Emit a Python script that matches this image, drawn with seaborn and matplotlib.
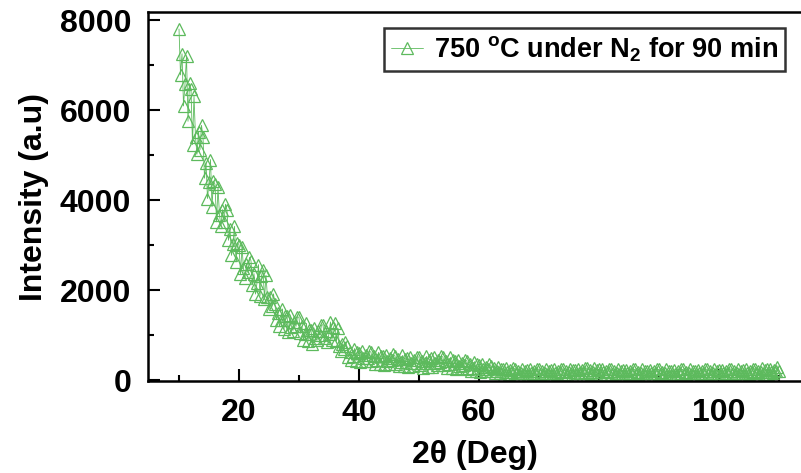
import numpy as np
import pandas as pd
import matplotlib
matplotlib.use('Agg')
import matplotlib.pyplot as plt
from matplotlib.ticker import MultipleLocator
import seaborn as sns

# XRD scan: 10 to 110 deg, 0.25 deg step
scan_start = 10.0
scan_stop = 110.0
scan_step = 0.25
two_theta = np.arange(scan_start, scan_stop + scan_step / 2, scan_step)

# intensity, four readings per degree
intensity = [
    7800, 6780, 7250, 6090,   # 10
    6580, 7200, 5750, 6590,   # 11
    6460, 5230, 6310, 5390,   # 12
    5020, 5520, 5120, 5660,   # 13
    5400, 4485, 4826, 4033,   # 14
    4390, 4900, 3850, 4420,   # 15
    4350, 3515, 4280, 3660,   # 16
    3420, 3785, 3515, 3905,   # 17
    3780, 3105, 3355, 2770,   # 18
    3030, 3415, 2625, 3055,   # 19
    3005, 2355, 2965, 2480,   # 20
    2270, 2585, 2390, 2725,   # 21
    2650, 2115, 2365, 1910,   # 22
    2160, 2565, 1875, 2320,   # 23
    2445, 1800, 2325, 1835,   # 24
    1575, 1840, 1635, 1915,   # 25
    1690, 1340, 1490, 1190,   # 26
    1330, 1580, 1140, 1420,   # 27
    1430, 1060, 1450, 1180,   # 28
    1100, 1300, 1190, 1410,   # 29
    1390, 1040, 1190, 890,    # 30
    1020, 1260, 860, 1120,    # 31
    1110, 790, 1160, 930,     # 32
    880, 1090, 1000, 1220,    # 33
    1230, 940, 1100, 840,     # 34
    1030, 1290, 900, 1170,    # 35
    1260, 860, 1150, 750,     # 36
    645, 795, 685, 845,       # 37
    745, 510, 630, 440,       # 38
    530, 700, 430, 620,       # 39
    605, 395, 635, 485,       # 40
    420, 555, 495, 640,       # 41
    620, 425, 530, 365,       # 42
    450, 615, 360, 540,       # 43
    530, 335, 560, 420,       # 44
    365, 490, 435, 570,       # 45
    540, 360, 460, 305,       # 46
    390, 545, 310, 475,       # 47
    480, 285, 510, 370,       # 48
    315, 440, 385, 520,       # 49
    510, 330, 430, 275,       # 50
    370, 525, 290, 455,       # 51
    480, 285, 510, 370,       # 52
    325, 450, 395, 530,       # 53
    510, 330, 430, 275,       # 54
    350, 505, 270, 435,       # 55
    425, 245, 450, 320,       # 56
    260, 380, 325, 450,       # 57
    425, 255, 345, 205,       # 58
    275, 410, 205, 350,       # 59
    340, 170, 365, 245,       # 60
    195, 295, 250, 355,       # 61
    320, 190, 260, 150,       # 62
    200, 300, 150, 255,       # 63
    245, 120, 265, 175,       # 64
    140, 215, 180, 260,       # 65
    250, 145, 200, 115,       # 66
    165, 250, 115, 210,       # 67
    220, 110, 235, 155,       # 68
    125, 200, 165, 245,       # 69
    240, 135, 190, 105,       # 70
    165, 250, 115, 210,       # 71
    225, 115, 240, 160,       # 72
    130, 205, 170, 250,       # 73
    245, 140, 195, 110,       # 74
    170, 255, 120, 215,       # 75
    230, 120, 245, 165,       # 76
    145, 220, 185, 265,       # 77
    265, 160, 215, 130,       # 78
    185, 270, 135, 230,       # 79
    235, 125, 250, 170,       # 80
    135, 210, 175, 255,       # 81
    245, 140, 195, 110,       # 82
    165, 250, 115, 210,       # 83
    215, 105, 230, 150,       # 84
    125, 200, 165, 245,       # 85
    235, 130, 185, 100,       # 86
    155, 240, 105, 200,       # 87
    210, 100, 225, 145,       # 88
    120, 195, 160, 240,       # 89
    235, 130, 185, 100,       # 90
    150, 235, 100, 195,       # 91
    205, 95, 220, 140,        # 92
    120, 195, 160, 240,       # 93
    235, 130, 185, 100,       # 94
    155, 240, 105, 200,       # 95
    210, 100, 225, 145,       # 96
    125, 200, 165, 245,       # 97
    240, 135, 190, 105,       # 98
    160, 245, 110, 205,       # 99
    215, 105, 230, 150,       # 100
    125, 200, 165, 245,       # 101
    245, 140, 195, 110,       # 102
    165, 250, 115, 210,       # 103
    220, 110, 235, 155,       # 104
    130, 205, 170, 250,       # 105
    250, 145, 200, 115,       # 106
    175, 260, 125, 220,       # 107
    235, 125, 250, 170,       # 108
    150, 225, 190, 280,       # 109
    200,                      # 110
]

series_label = '750 $^{\\mathbf{o}}$C under N$_{\\mathbf{2}}$ for 90 min'
green = '#5dba5d'

df = pd.DataFrame({'two_theta': two_theta, 'intensity': intensity})

sns.set_style('ticks')
plt.rcParams['font.family'] = ['Liberation Sans', 'DejaVu Sans']
plt.rcParams['font.weight'] = 'bold'
plt.rcParams['text.color'] = 'black'
plt.rcParams['axes.labelcolor'] = 'black'
plt.rcParams['axes.edgecolor'] = 'black'
plt.rcParams['xtick.color'] = 'black'
plt.rcParams['ytick.color'] = 'black'
plt.rcParams['mathtext.fontset'] = 'custom'
plt.rcParams['mathtext.rm'] = 'Liberation Sans:bold'
plt.rcParams['mathtext.bf'] = 'Liberation Sans:bold'

fig = plt.figure(figsize=(8.01, 4.73), dpi=100)
ax = fig.add_axes([148 / 801, 92 / 473, 1 - 148 / 801, 369 / 473])

sns.lineplot(data=df, x='two_theta', y='intensity', ax=ax, color=green,
             lw=0.6, marker='^', markersize=9, markerfacecolor='none',
             markeredgecolor=green, markeredgewidth=0.9,
             estimator=None, sort=False, label=series_label)

ax.set_xlim(4.83, 113.7)
ax.set_ylim(-22, 8178)
ax.xaxis.set_major_locator(MultipleLocator(20))
ax.xaxis.set_minor_locator(MultipleLocator(10))
ax.yaxis.set_major_locator(MultipleLocator(2000))
ax.yaxis.set_minor_locator(MultipleLocator(1000))

ax.spines['right'].set_visible(False)
for s in ['left', 'top', 'bottom']:
    ax.spines[s].set_linewidth(1.8)
ax.tick_params(which='major', direction='in', length=8.5, width=1.5,
               labelsize=23, pad=12)
ax.tick_params(which='minor', direction='in', length=4.5, width=1.5)
ax.tick_params(axis='x', top=False, which='both')
ax.tick_params(axis='y', right=False, which='both')
for lab in ax.get_xticklabels() + ax.get_yticklabels():
    lab.set_fontweight('bold')

ax.set_xlabel('2θ (Deg)', fontsize=23, fontweight='bold', labelpad=9)
ax.set_ylabel('Intensity (a.u)', fontsize=23, fontweight='bold', labelpad=8)

leg = ax.legend(loc='upper right', bbox_to_anchor=(785 / 801, 445 / 473),
                bbox_transform=fig.transFigure, borderaxespad=0,
                fancybox=False, frameon=True, fontsize=19.5, handlelength=1.2,
                borderpad=0.25, handletextpad=0.4)
leg.get_frame().set_edgecolor('black')
leg.get_frame().set_linewidth(1.8)
for t in leg.get_texts():
    t.set_fontweight('bold')

fig.savefig('out.png', dpi=100)
